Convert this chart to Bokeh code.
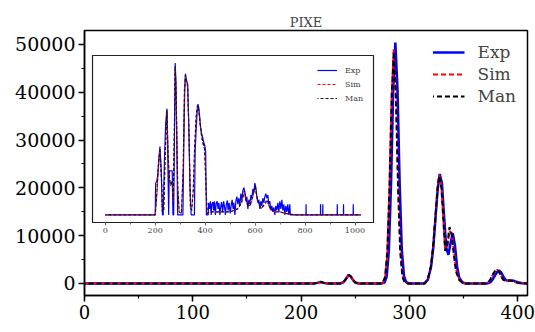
from bokeh.plotting import figure
from bokeh.layouts import column
from bokeh.models import Range1d, SingleIntervalTicker, Legend, LegendItem, Label
from bokeh.embed import file_html
from bokeh.resources import INLINE

# ---------------- main spectrum (channels 0..409) ----------------
exp_x = [0, 212, 215, 218, 221, 224, 236, 239, 241, 243,
         244, 246, 248, 250, 253, 274, 277, 279, 281, 283,
         285, 287, 289, 291, 293, 295, 297, 300, 314, 317,
         320, 322, 324, 326, 328, 330, 332, 334, 336, 338,
         340, 342, 344, 346, 349, 352, 372, 375, 377, 379,
         381, 383, 385, 387, 389, 391, 393, 395, 397, 400,
         404, 409]
exp_y = [0, 0, 120, 300, 120, 0, 0, 250, 800, 1500,
         1800, 1400, 700, 200, 0, 0, 200, 1460, 6800, 20700,
         40500, 50400, 40500, 20700, 6800, 1500, 250, 0, 0, 800,
         3500, 7500, 13500, 19500, 22900, 21000, 14000, 7500, 6000, 8500,
         10500, 8000, 3500, 1200, 200, 0, 0, 300, 900, 1700,
         2400, 2700, 2200, 1300, 700, 550, 600, 600, 500, 250,
         50, 0]

man_x = [0, 212, 215, 218, 221, 224, 236, 239, 241, 243,
         244, 246, 248, 250, 253, 273, 275.5, 277.5, 279.5, 281.5,
         283.5, 285.5, 287.5, 289.5, 291.5, 293.5, 295.5, 298.5, 314, 317,
         320, 322, 324, 326, 327.5, 329.5, 331.5, 333, 335, 337,
         339, 341, 343, 346, 349, 352, 370, 373, 375, 377,
         379, 381, 383, 385, 387, 389, 391, 393, 395, 398,
         402, 409]
man_y = [0, 0, 120, 300, 120, 0, 0, 250, 800, 1500,
         1800, 1400, 700, 200, 0, 0, 200, 1400, 6600, 20000,
         39000, 48500, 39000, 20000, 6600, 1400, 250, 0, 0, 900,
         3800, 8000, 14000, 20000, 22500, 20000, 12500, 6800, 8200, 11800,
         10200, 6000, 2500, 700, 100, 0, 0, 300, 1000, 1900,
         2600, 2900, 2300, 1300, 700, 550, 600, 600, 500, 250,
         50, 0]
sim_y = [0, 0, 120, 300, 120, 0, 0, 250, 800, 1500,
         1800, 1400, 700, 200, 0, 0, 150, 1100, 5600, 18500,
         38000, 49000, 41000, 22000, 7800, 1800, 300, 0, 0, 850,
         3700, 7800, 13800, 19800, 22700, 20500, 13000, 7000, 7600, 11000,
         10500, 6800, 3000, 800, 150, 0, 0, 250, 900, 1800,
         2500, 2850, 2400, 1400, 700, 550, 600, 600, 500, 250,
         50, 0]

# ---------------- inset spectrum (channels 0..1023, relative counts) ----------------
ins_peak_x = [0, 200, 202, 206, 210, 214, 219, 224, 229, 232,
              237, 242, 247, 250, 254, 256, 262, 268, 271, 274,
              277, 280, 283, 287, 290, 294, 300, 306, 311, 314,
              318, 321, 326, 330, 334, 339, 344, 350, 357, 360,
              364, 368, 371, 374, 378, 381, 385, 390, 394, 398,
              402, 405, 410]
ins_peak_y = [0, 0, 210, 220, 260, 360, 450, 300, 0, 0,
              360, 600, 700, 420, 0, 290, 290, 290, 0, 0,
              500, 1000, 880, 400, 0, 0, 0, 0, 0, 400,
              800, 930, 880, 860, 620, 200, 0, 0, 0, 420,
              560, 680, 730, 710, 650, 590, 540, 510, 480, 460,
              420, 0, 0]
ins_noise_x = [412, 414, 418, 421, 424, 427, 431, 434, 437, 441,
               444, 448, 452, 455, 459, 463, 466, 470, 474, 478,
               481, 485, 489, 492, 496, 500, 504, 508, 512, 515,
               519, 523, 527, 531, 535, 539, 543, 547, 551, 555,
               559, 563, 567, 571, 575, 579, 583, 587, 591, 595,
               599, 603, 607, 611, 615, 619, 623, 627, 631, 635,
               639, 643, 647, 651, 655, 659, 663, 667, 671, 675,
               679, 683, 687, 691, 695, 699, 703, 707, 711, 715,
               719, 723, 727, 731, 735, 739, 741]
ins_noise_y = [0, 80, 40, 90, 0, 70, 85, 30, 90, 0,
               75, 90, 40, 80, 0, 60, 85, 20, 90, 50,
               0, 70, 95, 30, 80, 10, 60, 100, 40, 80,
               0, 90, 120, 70, 110, 60, 140, 100, 160, 180,
               150, 90, 120, 40, 100, 70, 130, 110, 170, 150,
               210, 180, 120, 80, 100, 40, 90, 60, 110, 80,
               120, 140, 110, 130, 70, 90, 30, 60, 20, 50,
               0, 60, 30, 80, 20, 90, 40, 100, 30, 70,
               0, 60, 20, 70, 0, 70, 0]
ins_spike_x = [803.5, 804, 804.5, 861.5, 862, 862.5, 870.5, 871, 871.5,
               928.5, 929, 929.5, 953.5, 954, 954.5, 992.5, 993, 993.5, 1023]
ins_spike_y = [0, 70, 0, 0, 70, 0, 0, 70, 0,
               0, 70, 0, 0, 70, 0, 0, 70, 0, 0]

ins_fit_x = [0, 200, 205, 212, 219, 225, 229, 234, 240, 247,
             252, 256, 262, 268, 272, 276, 280, 284, 290, 296,
             305, 312, 317, 321, 326, 330, 336, 341, 346, 352,
             358, 364, 369, 374, 380, 386, 392, 398, 403, 408,
             420, 450, 500, 530, 545, 557, 568, 580, 590, 600,
             610, 625, 640, 648, 660, 680, 700, 720, 760, 1023]
ins_man_y = [0, 0, 100, 300, 440, 250, 20, 30, 400, 690,
             400, 250, 200, 220, 100, 450, 980, 800, 200, 20,
             10, 300, 820, 920, 880, 850, 500, 50, 30, 150,
             450, 650, 720, 700, 600, 520, 470, 440, 200, 10,
             20, 20, 20, 40, 80, 160, 70, 60, 120, 190,
             100, 40, 80, 100, 40, 20, 20, 10, 0, 0]
ins_sim_y = [0, 0, 90, 280, 430, 240, 20, 30, 390, 680,
             390, 240, 190, 210, 90, 440, 970, 790, 190, 20,
             10, 290, 810, 910, 870, 840, 490, 50, 30, 140,
             440, 640, 710, 690, 590, 510, 460, 430, 190, 10,
             20, 20, 20, 40, 70, 150, 70, 60, 110, 180,
             90, 40, 70, 90, 40, 20, 20, 10, 0, 0]

series_labels = ["Exp", "Sim", "Man"]
main_ticks_x = 100
main_ticks_y = 10000
inset_ticks_x = 200

SERIF = "DejaVu Serif"

# ---------------- main figure ----------------
p = figure(width=535, height=332, x_range=Range1d(0, 409), y_range=Range1d(-2520, 52920),
           output_backend="svg", toolbar_location=None,
           min_border_left=84, min_border_right=8, min_border_top=30, min_border_bottom=37)
p.title.text = "PIXE"
p.title.align = "center"
p.title.text_font = SERIF
p.title.text_font_size = "13px"
p.title.text_font_style = "normal"
p.title.standoff = 2
p.grid.visible = False
p.outline_line_color = "black"
p.outline_line_width = 1.5
p.background_fill_color = "white"
p.border_fill_color = "white"

p.xaxis.ticker = SingleIntervalTicker(interval=main_ticks_x, num_minor_ticks=2)
p.yaxis.ticker = SingleIntervalTicker(interval=main_ticks_y, num_minor_ticks=2)
for ax in (p.xaxis, p.yaxis):
    ax.axis_line_color = "black"
    ax.axis_line_width = 1.5
    ax.major_tick_line_color = "black"
    ax.major_tick_line_width = 1.5
    ax.minor_tick_line_color = "black"
    ax.minor_tick_line_width = 1.2
    ax.major_tick_out = 6
    ax.major_tick_in = 0
    ax.minor_tick_out = 3
    ax.minor_tick_in = 0
    ax.major_label_text_font = SERIF
    ax.major_label_text_color = "black"
    ax.major_label_standoff = 3
p.xaxis.major_label_text_font_size = "18px"
p.yaxis.major_label_text_font_size = "19px"

r_exp = p.line(exp_x, exp_y, line_color="#0000ff", line_width=2.5)
r_sim = p.line(man_x, sim_y, line_color="#ff0000", line_width=2, line_dash="5 3")
r_man = p.line(man_x, man_y, line_color="black", line_width=2, line_dash="5 3", line_dash_offset=4)

leg = Legend(items=[LegendItem(label=series_labels[0], renderers=[r_exp]),
                    LegendItem(label=series_labels[1], renderers=[r_sim]),
                    LegendItem(label=series_labels[2], renderers=[r_man])],
             location="top_right", margin=5, padding=6, spacing=0,
             glyph_width=32, glyph_height=22, label_height=22, label_standoff=13,
             label_text_font=SERIF, label_text_font_size="17px",
             border_line_alpha=0, background_fill_alpha=0)
p.add_layout(leg)

p.add_layout(Label(x=-83, y=-31, x_units="screen", y_units="screen", text="0",
                   text_font=SERIF, text_font_size="18px", text_color="black"))

# ---------------- inset figure ----------------
# (the column aligns the inset frame with the main one, so use the same side borders)
ins = figure(width=373, height=189, x_range=Range1d(-51, 1074), y_range=Range1d(-50, 1050),
             output_backend="svg", toolbar_location=None,
             min_border_left=84, min_border_right=8, min_border_top=2, min_border_bottom=20)
ins.grid.visible = False
ins.yaxis.visible = False
ins.outline_line_color = "#222222"
ins.outline_line_width = 1.2
ins.background_fill_color = "white"
ins.border_fill_alpha = 0
ins.xaxis.ticker = SingleIntervalTicker(interval=inset_ticks_x, num_minor_ticks=2)
ins.xaxis.axis_line_color = "#222222"
ins.xaxis.major_tick_line_color = "#555555"
ins.xaxis.minor_tick_line_color = "#777777"
ins.xaxis.major_tick_out = 3
ins.xaxis.major_tick_in = 0
ins.xaxis.minor_tick_out = 2
ins.xaxis.minor_tick_in = 0
ins.xaxis.major_label_text_font = SERIF
ins.xaxis.major_label_text_font_size = "8px"
ins.xaxis.major_label_text_color = "#444444"
ins.xaxis.major_label_standoff = 2

ins_exp_x = ins_peak_x + ins_noise_x + ins_spike_x
ins_exp_y = ins_peak_y + ins_noise_y + ins_spike_y
i_exp = ins.line(ins_exp_x, ins_exp_y, line_color="#0000ff", line_width=1.2)
i_sim = ins.line(ins_fit_x, ins_sim_y, line_color="#ff0000", line_width=1, line_dash="3 2")
i_man = ins.line(ins_fit_x, ins_man_y, line_color="#111133", line_width=1.2, line_dash="3 2", line_dash_offset=2)

ileg = Legend(items=[LegendItem(label=series_labels[0], renderers=[i_exp]),
                     LegendItem(label=series_labels[1], renderers=[i_sim]),
                     LegendItem(label=series_labels[2], renderers=[i_man])],
              location="top_right", margin=4, padding=4, spacing=0,
              glyph_width=20, glyph_height=14, label_height=14, label_standoff=8,
              label_text_font=SERIF, label_text_font_size="8px", label_text_color="#444444",
              border_line_alpha=0, background_fill_alpha=0)
ins.add_layout(ileg)

ins.styles = {"position": "absolute", "left": "8px", "top": "53px"}

layout = column(p, ins)
open("out.html", "w").write(file_html(layout, INLINE))
